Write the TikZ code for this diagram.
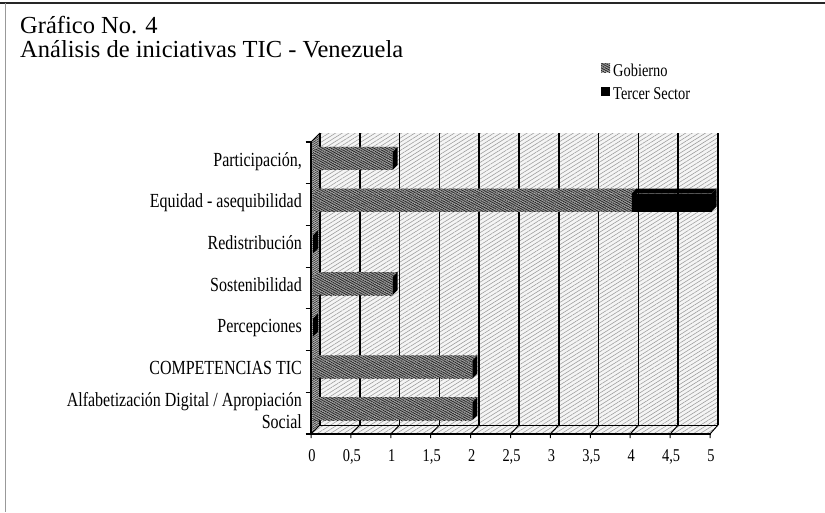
\documentclass[tikz,border=0pt]{standalone}
\usepackage{fontspec}
\setmainfont{Liberation Serif}
\newfontfamily\cf[FakeStretch=0.8]{Liberation Serif}
\usetikzlibrary{patterns.meta}
\tikzset{
  wallfill/.style={fill=gray!8, postaction={pattern={Lines[angle=32,distance=3.5pt,line width=0.6pt]}, pattern color=gray!75}},
  sidefill/.style={fill=gray!55, postaction={pattern={Lines[angle=32,distance=1.8pt,line width=0.7pt]}, pattern color=black!80}},
  gobfill/.style={fill=gray!55, postaction={pattern={Lines[angle=22,distance=1.6pt,line width=0.8pt]}, pattern color=black!85}},
  tercfill/.style={fill=black},
  grid/.style={line width=1.6pt, black},
  axis/.style={line width=1.3pt, black},
  catlbl/.style={font=\cf\fontsize{20}{21.3}\selectfont, anchor=base east, inner sep=0pt, align=right},
  numlbl/.style={font=\cf\fontsize{18}{20}\selectfont, anchor=base, inner sep=0pt},
  leglbl/.style={font=\cf\fontsize{18}{20}\selectfont, anchor=base west, inner sep=0pt},
  titlelbl/.style={font=\fontsize{24.5}{26}\selectfont, anchor=base west, inner sep=0pt}
}
% bar box: #1 mid y, #2 start value, #3 end value, #4 face style
\newcommand\barbox[4]{%
  \pgfmathsetmacro\xa{315.5+79.7*#2}%
  \pgfmathsetmacro\xb{315.5+79.7*#3}%
  \path[#4] (\xa-2.5,#1-6.5) rectangle (\xb-2.5,#1+11.5);
  \path[#4] (\xa-2.5,#1-6.5) -- (\xb-2.5,#1-6.5) -- (\xb+2.5,#1-11.5) -- (\xa+2.5,#1-11.5) -- cycle;
  \fill[black] (\xb-2.5,#1-6.5) -- (\xb+2.5,#1-11.5) -- (\xb+2.5,#1+6.5) -- (\xb-2.5,#1+11.5) -- cycle;
}
\begin{document}
\begin{tikzpicture}[x=1pt,y=-1pt]
\useasboundingbox (0,0) rectangle (825,512);
\fill[white] (0,0) rectangle (825,512);
% frame
\draw[line width=2pt, black!85] (0,3) -- (825,3);
\draw[line width=1.5pt, gray!80] (5.5,3) -- (5.5,512);
% title
\node[titlelbl] (t1) at (20,33) {Gráfico No. 4};
\node[titlelbl] (t2) at (20,57) {Análisis de iniciativas TIC - Venezuela};
% legend
\path[gobfill] (601,63) rectangle (610,72);
\fill[black] (601,87) rectangle (610,96);
\node[leglbl] (lg) at (613,76) {Gobierno};
\node[leglbl] (lt) at (613,99) {Tercer Sector};
% walls
\path[wallfill] (320,133) rectangle (718,425);
\path[sidefill] (311,142) -- (320,133) -- (320,425) -- (311,434) -- cycle;
\path[wallfill] (311,434) -- (320,425) -- (718,425) -- (710,434) -- cycle;
% grid lines on back wall
\foreach \k in {0,...,10} {
  \draw[grid] ({320+39.8*\k},133) -- ({320+39.8*\k},425);
}
% floor lines
\draw[line width=1pt] (320,425) -- (718,425);
\foreach \k in {0,...,10} {
  \draw[line width=1pt] ({311+39.9*\k},438) -- ({311+39.9*\k},434) -- ({320+39.8*\k},425);
}
% bars
\barbox{158.4}{0}{1}{gobfill}
\barbox{200.1}{0}{4}{gobfill}
\barbox{200.1}{4}{5}{tercfill}
\barbox{241.8}{0}{0}{gobfill}
\barbox{283.5}{0}{1}{gobfill}
\barbox{325.2}{0}{0}{gobfill}
\barbox{366.9}{0}{2}{gobfill}
\barbox{408.6}{0}{2}{gobfill}
% axes
\draw[axis] (311,142) -- (311,435);
\draw[line width=1pt] (311,142) -- (320,133);
\draw[axis] (310,434) -- (711,434);
\foreach \k in {0,...,7} {
  \draw[line width=1.2pt] (305.5,{142+41.71*\k}) -- (311,{142+41.71*\k});
}
% category labels
\node[catlbl] (c1) at (302,166.5) {Participación,};
\node[catlbl] (c2) at (302,207) {Equidad - asequibilidad};
\node[catlbl] (c3) at (302,249.5) {Redistribución};
\node[catlbl] (c4) at (302,291.5) {Sostenibilidad};
\node[catlbl] (c5) at (302,332) {Percepciones};
\node[catlbl] (c6) at (302,374) {COMPETENCIAS TIC};
\node[catlbl] (c7a) at (302,406.7) {Alfabetización Digital / Apropiación};
\node[catlbl] (c7b) at (302,428) {Social};
% value labels
\foreach \v/\t [count=\i from 0] in {0/0,1/{0,5},2/1,3/{1,5},4/2,5/{2,5},6/3,7/{3,5},8/4,9/{4,5},10/5} {
  \node[numlbl] (n\i) at ({312+39.9*\v},461) {\t};
}
\end{tikzpicture}
\end{document}
